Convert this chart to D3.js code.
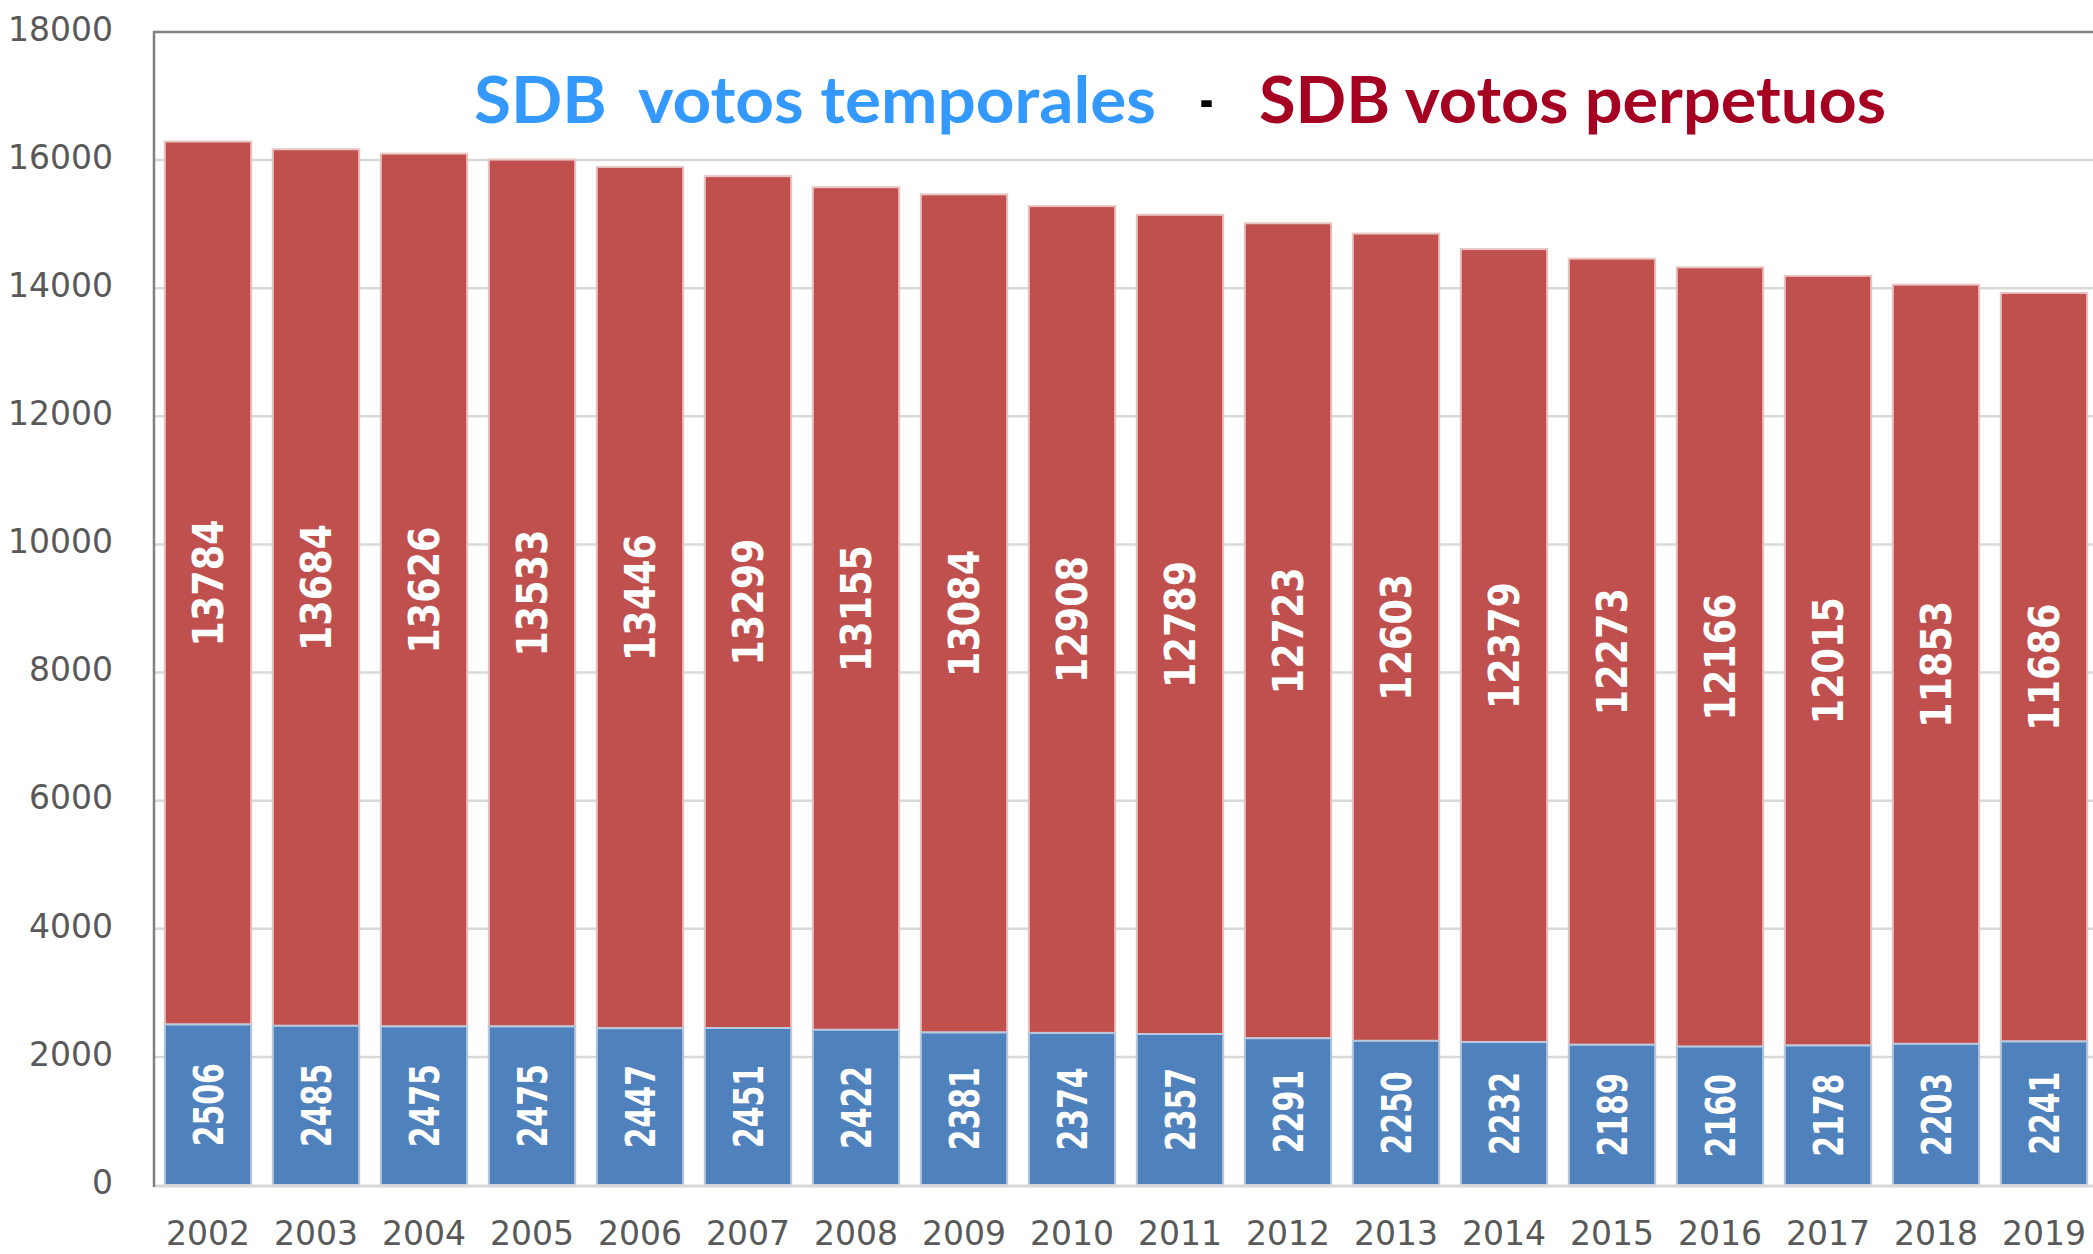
<!DOCTYPE html>
<html>
<head>
    <meta charset="utf-8" />
    <title>SDB votos</title>
    <script src="https://cdn.jsdelivr.net/npm/d3@7"></script>
    <style>
        body { margin: 0; background: #fff; }
        .tick text { fill: #595959; font: 33px "DejaVu Sans", sans-serif; }
        .label { fill: #fff; font-family: "DejaVu Sans", sans-serif; font-weight: bold; text-anchor: middle; }
    </style>
</head>
<body>
    <svg class="chart"></svg>

    <script>
    var years = ["2002", "2003", "2004", "2005", "2006", "2007", "2008", "2009", "2010",
                 "2011", "2012", "2013", "2014", "2015", "2016", "2017", "2018", "2019"];
    var temporales = [2506, 2485, 2475, 2475, 2447, 2451, 2422, 2381, 2374,
                      2357, 2291, 2250, 2232, 2189, 2160, 2178, 2203, 2241];
    var perpetuos = [13784, 13684, 13626, 13533, 13446, 13299, 13155, 13084, 12908,
                     12789, 12723, 12603, 12379, 12273, 12166, 12015, 11853, 11686];
    var yTicks = [0, 2000, 4000, 6000, 8000, 10000, 12000, 14000, 16000, 18000];

    var width = 2093, height = 1254;
    var plotLeft = 154, plotTop = 32, plotBottom = 1185;
    var step = 108;

    var svg = d3.select(".chart")
        .attr("width", width)
        .attr("height", height);

    // the plot area continues past the right edge of the picture
    var x = d3.scaleBand()
        .domain(years)
        .range([plotLeft, plotLeft + step * years.length])
        .paddingInner(0.2)
        .paddingOuter(0.1);

    var y = d3.scaleLinear()
        .domain([0, 18000])
        .range([plotBottom, plotTop]);

    // gridlines
    svg.append("g")
        .selectAll("line")
        .data(yTicks.filter(function (d) { return d > 0 && d < 18000; }))
        .enter().append("line")
        .attr("x1", plotLeft)
        .attr("x2", width)
        .attr("y1", function (d) { return y(d); })
        .attr("y2", function (d) { return y(d); })
        .attr("stroke", "#d9d9d9")
        .attr("stroke-width", 2.5);

    var rows = years.map(function (yr, i) {
        return { year: yr, t: temporales[i], p: perpetuos[i] };
    });

    var bar = svg.append("g")
        .selectAll("g")
        .data(rows)
        .enter().append("g");

    bar.append("rect")
        .attr("x", function (d) { return x(d.year); })
        .attr("width", x.bandwidth())
        .attr("y", function (d) { return y(d.t + d.p); })
        .attr("height", function (d) { return y(d.t) - y(d.t + d.p); })
        .attr("fill", "#c0504d")
        .attr("stroke", "#e8c4c3")
        .attr("stroke-width", 2);

    bar.append("rect")
        .attr("x", function (d) { return x(d.year); })
        .attr("width", x.bandwidth())
        .attr("y", function (d) { return y(d.t); })
        .attr("height", function (d) { return y(0) - y(d.t); })
        .attr("fill", "#4f81bd")
        .attr("stroke", "#b9c9de")
        .attr("stroke-width", 2);

    // value labels, rotated
    bar.append("text")
        .attr("class", "label")
        .attr("transform", function (d) {
            return "translate(" + (x(d.year) + x.bandwidth() / 2) + "," + y(d.t + d.p / 2) + ") rotate(-90)";
        })
        .attr("dy", "0.36em")
        .style("font-size", "43px")
        .attr("textLength", function (d) { return String(d.p).length * 25.4; })
        .attr("lengthAdjust", "spacingAndGlyphs")
        .text(function (d) { return d.p; });

    bar.append("text")
        .attr("class", "label")
        .attr("transform", function (d) {
            return "translate(" + (x(d.year) + x.bandwidth() / 2) + "," + y(d.t / 2) + ") rotate(-90)";
        })
        .attr("dy", "0.36em")
        .style("font-size", "41px")
        .attr("textLength", function (d) { return String(d.t).length * 20.8; })
        .attr("lengthAdjust", "spacingAndGlyphs")
        .text(function (d) { return d.t; });

    // axes
    var yAxis = svg.append("g")
        .attr("transform", "translate(113,0)")
        .call(d3.axisLeft(y).tickValues(yTicks).tickSize(0).tickPadding(0).tickFormat(d3.format("d")));
    yAxis.select(".domain").remove();
    yAxis.selectAll(".tick text").attr("dy", "0.25em");

    var xAxis = svg.append("g")
        .attr("transform", "translate(0," + plotBottom + ")")
        .call(d3.axisBottom(x).tickSize(0).tickPadding(37));
    xAxis.select(".domain").remove();

    svg.append("line")
        .attr("x1", plotLeft).attr("x2", width)
        .attr("y1", plotBottom + 1).attr("y2", plotBottom + 1)
        .attr("stroke", "#d9d9d9")
        .attr("stroke-width", 3);

    // plot border (left and top)
    svg.append("path")
        .attr("d", "M" + plotLeft + "," + (plotBottom + 2) + "V" + plotTop + "H" + width)
        .attr("fill", "none")
        .attr("stroke", "#808080")
        .attr("stroke-width", 2.5);

    // title
    var title = svg.append("g")
        .style("font-family", "Lato, 'Noto Sans', sans-serif")
        .style("font-weight", "bold")
        .style("font-size", "65px");
    title.append("text")
        .attr("x", 474).attr("y", 123)
        .attr("fill", "#3399ff")
        .attr("textLength", 682)
        .attr("lengthAdjust", "spacingAndGlyphs")
        .text("SDB\u00a0\u00a0votos temporales");
    title.append("text")
        .attr("x", 1199).attr("y", 123)
        .attr("fill", "#000")
        .attr("textLength", 15)
        .attr("lengthAdjust", "spacingAndGlyphs")
        .text("-");
    title.append("text")
        .attr("x", 1259).attr("y", 123)
        .attr("fill", "#a50021")
        .attr("textLength", 627)
        .attr("lengthAdjust", "spacingAndGlyphs")
        .text("SDB votos perpetuos");
    </script>
</body>
</html>
